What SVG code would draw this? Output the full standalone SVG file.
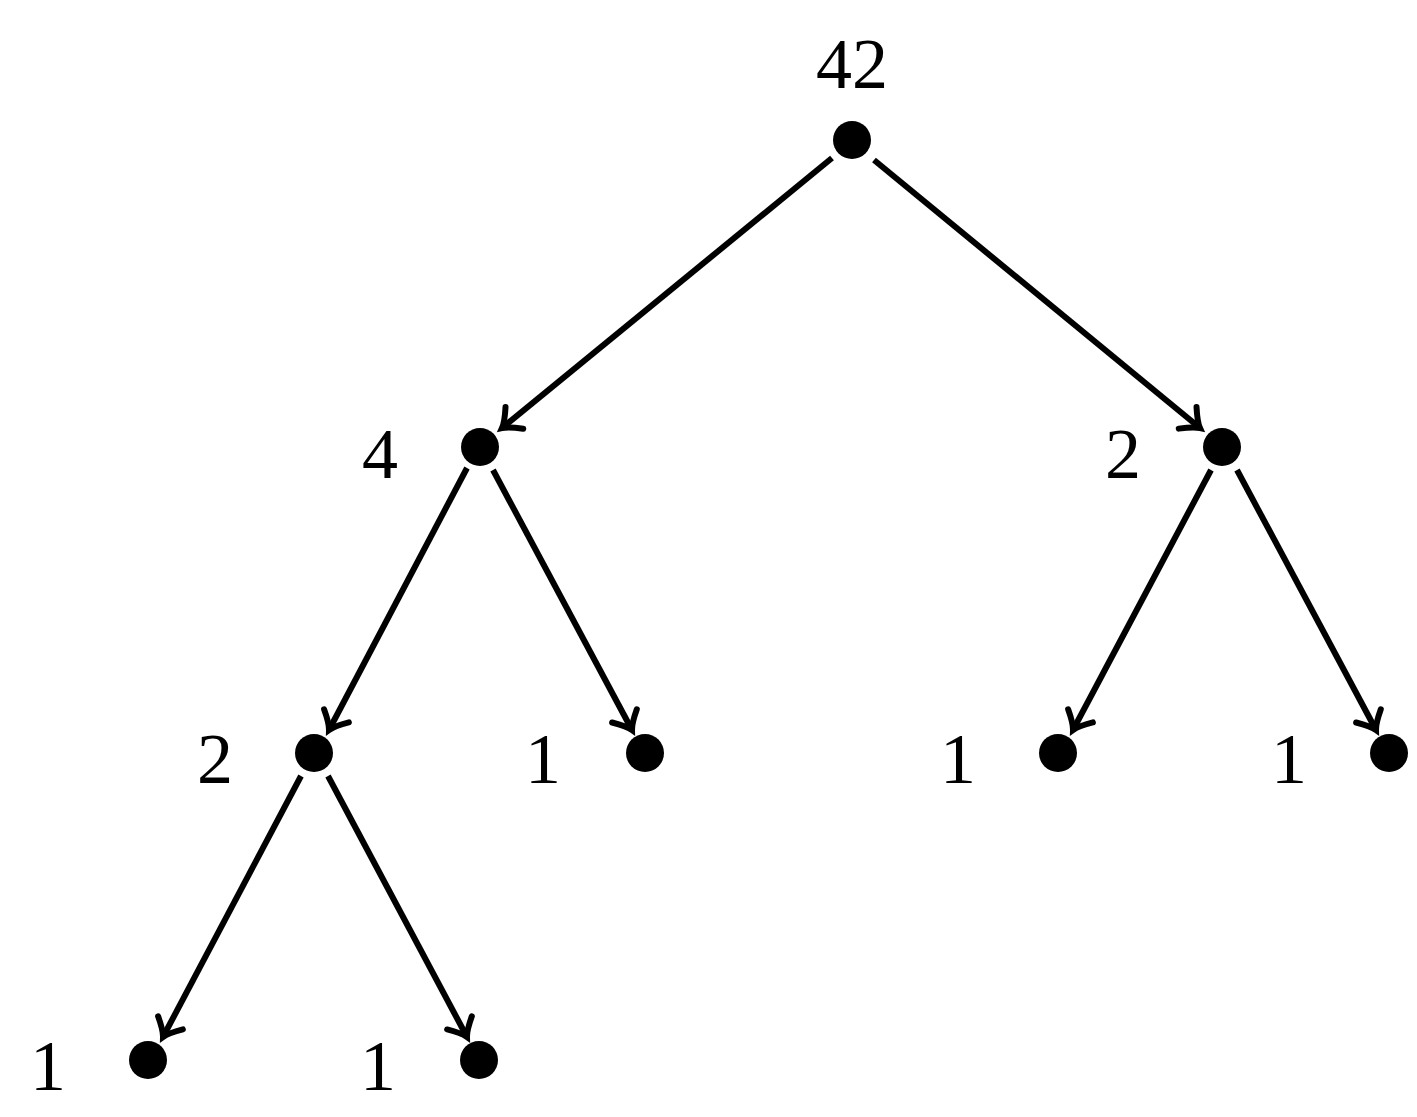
<svg xmlns="http://www.w3.org/2000/svg" width="1417" height="1117" viewBox="0 0 1417 1117">
<style>
.e{stroke:#000;stroke-width:6;fill:none;marker-end:url(#a)}
.n{fill:#000}
.t{font-family:"Liberation Serif",serif;font-size:72px;fill:#000;text-anchor:middle}
</style>
<defs>
<marker id="a" markerUnits="userSpaceOnUse" markerWidth="40" markerHeight="40" viewBox="-20 -20 40 40" refX="0" refY="0" orient="auto" overflow="visible">
<path d="M-16,-14 Q-6,-3 0,0 Q-6,3 -16,14" stroke="#000" stroke-width="6" fill="none" stroke-linecap="round"/>
</marker>
</defs>
<rect width="1417" height="1117" fill="#fff"/>
<g id="connectors">
<line class="e" x1="832" y1="158" x2="502" y2="428"/>
<line class="e" x1="874" y1="160" x2="1200" y2="428"/>
<line class="e" x1="467" y1="468" x2="329" y2="730"/>
<line class="e" x1="493" y1="470" x2="632" y2="730"/>
<line class="e" x1="1211" y1="470" x2="1073" y2="730"/>
<line class="e" x1="1237" y1="470" x2="1376" y2="730"/>
<line class="e" x1="301" y1="776" x2="163" y2="1037"/>
<line class="e" x1="328" y1="776" x2="467" y2="1037"/>
</g>
<g id="n42"><circle class="n" cx="852" cy="140" r="19"/><text class="t" x="852" y="88">42</text></g>
<g id="n4"><circle class="n" cx="480" cy="447" r="19"/><text class="t" x="380" y="478">4</text></g>
<g id="n2r"><circle class="n" cx="1222" cy="447" r="19"/><text class="t" x="1123" y="478">2</text></g>
<g id="n2l"><circle class="n" cx="314" cy="753" r="19"/><text class="t" x="215" y="783">2</text></g>
<g id="nD"><circle class="n" cx="645" cy="753" r="19"/><text class="t" x="543" y="783">1</text></g>
<g id="nE"><circle class="n" cx="1058" cy="753" r="19"/><text class="t" x="958" y="783">1</text></g>
<g id="nF"><circle class="n" cx="1389" cy="753" r="19"/><text class="t" x="1289" y="783">1</text></g>
<g id="nG"><circle class="n" cx="148" cy="1060" r="19"/><text class="t" x="48" y="1090">1</text></g>
<g id="nH"><circle class="n" cx="479" cy="1060" r="19"/><text class="t" x="378" y="1090">1</text></g>
</svg>
